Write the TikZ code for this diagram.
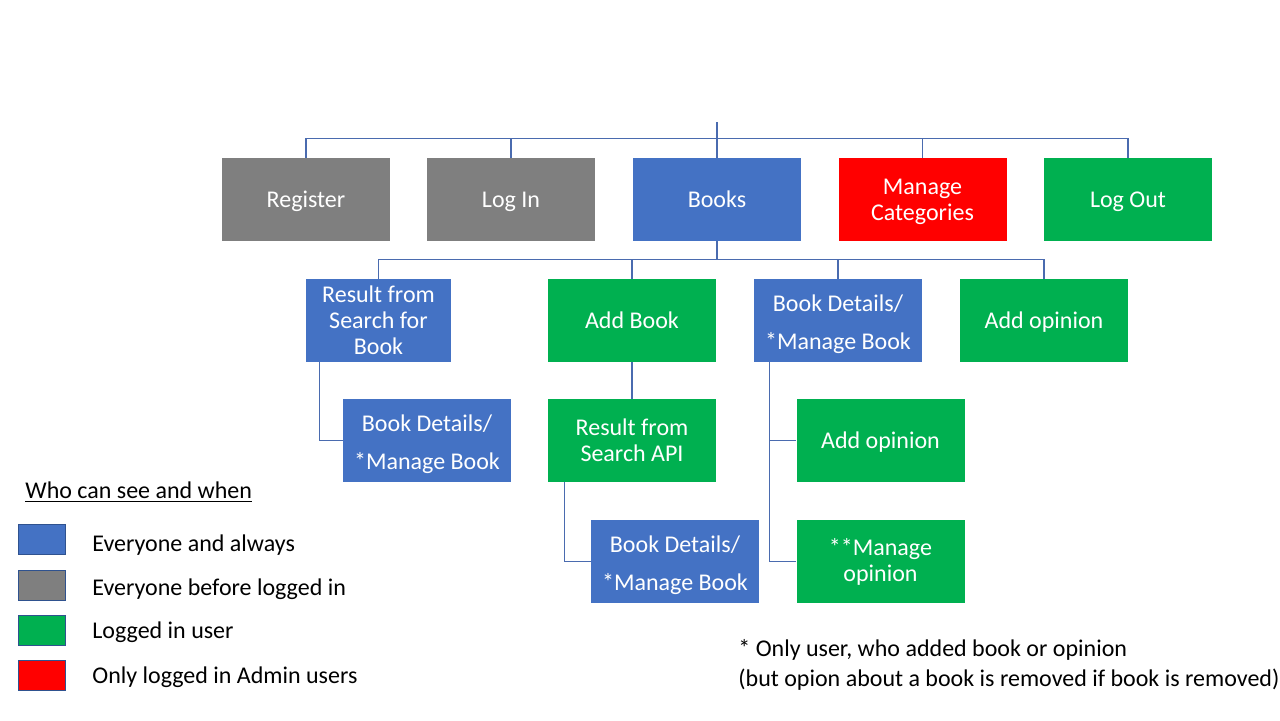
\documentclass[tikz,border=0pt]{standalone}
\usepackage{fontspec}
\setmainfont{Carlito}
\definecolor{cblue}{HTML}{4472C4}
\definecolor{cgray}{HTML}{7F7F7F}
\definecolor{cred}{HTML}{FF0000}
\definecolor{cgreen}{HTML}{00B050}
\definecolor{cline}{HTML}{4A6BAF}
\definecolor{cedge}{HTML}{2F528F}
\tikzset{
  box/.style={draw=none, minimum width=84pt, minimum height=41.5pt, inner sep=0pt,
    text=white, align=center, font=\fontsize{12pt}{13pt}\selectfont},
  one/.style={text height=8.4pt, text depth=0pt},
  narrow/.style={minimum width=72.5pt},
  conn/.style={draw=cline, line width=0.6pt},
  swatch/.style={draw=cedge, line width=0.5pt, minimum width=23.5pt, minimum height=15pt, inner sep=0pt},
  legtext/.style={anchor=base west, inner sep=0pt, font=\fontsize{12pt}{14pt}\selectfont},
}
\newcommand{\bdtext}{\rule{0pt}{12pt}Book Details/\\[6pt]*Manage Book}
\begin{document}
\begin{tikzpicture}[x=0.5pt, y=-0.5pt]
\useasboundingbox (0,0) rectangle (1280,720);
% top row
\node[box, one, fill=cgray] (reg) at (306,199.5) {Register};
\node[box, one, fill=cgray] (login) at (511,199.5) {Log In};
\node[box, one, fill=cblue] (books) at (717,199.5) {Books};
\node[box, fill=cred] (mc) at (922.5,199.5) {\rule{0pt}{9.7pt}Manage\\Categories};
\node[box, one, fill=cgreen] (logout) at (1128,199.5) {Log Out};
\coordinate (top) at (717,122);
% second row
\node[box, narrow, fill=cblue] (rs) at (378.5,320.5) {Result from\\Search for\\Book};
\node[box, one, fill=cgreen] (ab) at (632,320.5) {Add Book};
\node[box, fill=cblue] (bdm) at (838,320.5) {\bdtext};
\node[box, one, fill=cgreen] (ao) at (1044,320.5) {Add opinion};
% third row
\node[box, fill=cblue] (bd1) at (427,440.5) {\bdtext};
\node[box, fill=cgreen] (rsa) at (632,440.5) {Result from\\Search API};
\node[box, one, fill=cgreen] (ao2) at (880.5,440.5) {Add opinion};
% fourth row
\node[box, fill=cblue] (bd2) at (675,561.5) {\bdtext};
\node[box, fill=cgreen] (mo) at (880.5,561.5) {**Manage\\opinion};
% connectors top
\draw[conn] (top) -- (books.north);
\draw[conn] (reg.north) -- ++(0,-19) -| (logout.north);
\draw[conn] (login.north) -- ++(0,-19);
\draw[conn] (mc.north) -- ++(0,-19);
% connectors row 2
\draw[conn] (books.south) -- ++(0,19);
\draw[conn] (rs.north) -- ++(0,-19) -| (ao.north);
\draw[conn] (ab.north) -- ++(0,-19);
\draw[conn] (bdm.north) -- ++(0,-19);
% lower connectors
\draw[conn] ([xshift=7pt]rs.south west) |- (bd1.west);
\draw[conn] (ab.south) -- (rsa.north);
\draw[conn] ([xshift=8.5pt]rsa.south west) |- (bd2.west);
\draw[conn] ([xshift=8pt]bdm.south west) |- (mo.west);
\draw[conn] ([xshift=8pt]bdm.south west) |- (ao2.west);
% legend
\node[legtext] (legtitle) at (25,498) {\underline{Who can see and when}};
\node[swatch, fill=cblue] (s1) at (41.5,539) {};
\node[swatch, fill=cgray] (s2) at (41.5,585.5) {};
\node[swatch, fill=cgreen] (s3) at (41.5,630) {};
\node[swatch, fill=cred] (s4) at (41.5,675) {};
\node[legtext] (l1) at (92,551) {Everyone and always};
\node[legtext] (l2) at (92,595) {Everyone before logged in};
\node[legtext] (l3) at (92,638) {Logged in user};
\node[legtext] (l4) at (92,683) {Only logged in Admin users};
% footnote
\node[legtext] (f1) at (738,656) {* Only user, who added book or opinion};
\node[legtext] (f2) at (738,686) {(but opion about a book is removed if book is removed)};
\end{tikzpicture}
\end{document}
